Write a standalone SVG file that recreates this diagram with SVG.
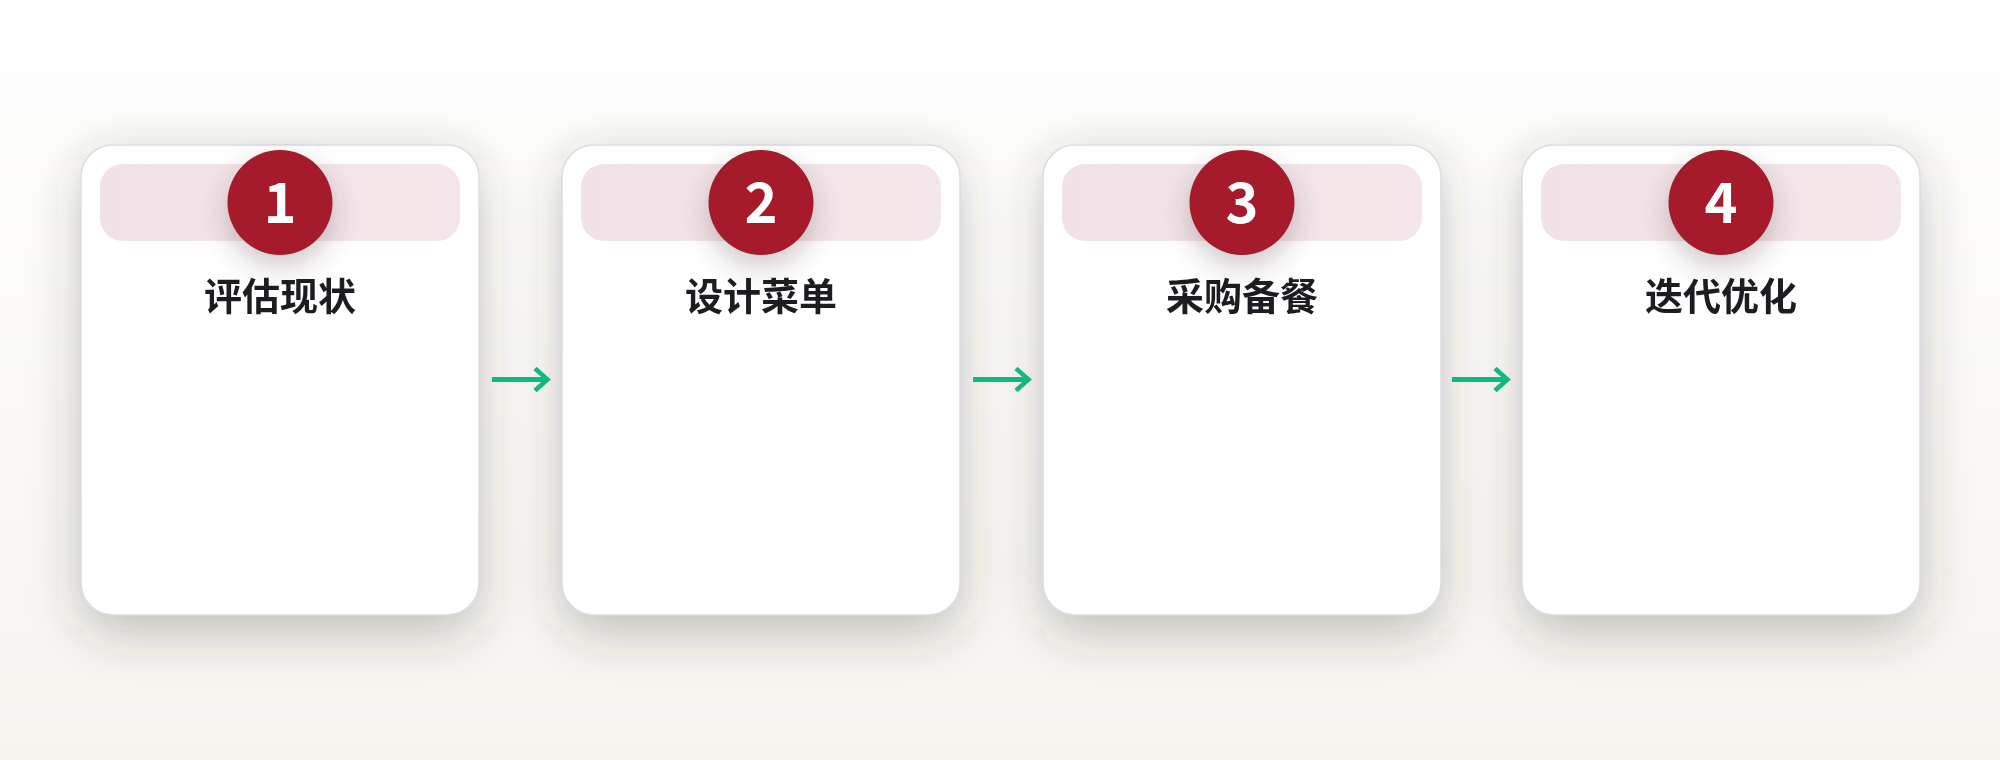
<svg xmlns="http://www.w3.org/2000/svg" width="2000" height="760" viewBox="0 0 2000 760">
  <defs>
    <linearGradient id="bg" x1="0" y1="0" x2="0" y2="1">
      <stop offset="0" stop-color="#ffffff"/>
      <stop offset="1" stop-color="#f6f4ef"/>
    </linearGradient>
    <linearGradient id="band" x1="0" y1="0" x2="1" y2="0">
      <stop offset="0" stop-color="#f0e2e6"/>
      <stop offset="1" stop-color="#f4e6e9"/>
    </linearGradient>
    <filter id="blurBig" filterUnits="userSpaceOnUse" x="-200" y="0" width="2400" height="760">
      <feGaussianBlur stdDeviation="26"/>
    </filter>
    <filter id="blurSmall" filterUnits="userSpaceOnUse" x="0" y="80" width="2000" height="300">
      <feGaussianBlur stdDeviation="15"/>
    </filter>
  </defs>
  <style>
    .card { fill: #ffffff; stroke: #dcdce5; stroke-width: 1.5; }
    .shadow { fill: #3a352e; opacity: 0.3; }
    .cshadow { fill: #3a1a20; opacity: 0.27; }
    .band { fill: url(#band); }
    .badge { fill: #a51b2b; }
    .num { font-family: "Noto Sans CJK SC", "Noto Sans", sans-serif; font-weight: 700; font-size: 56px; fill: #ffffff; text-anchor: middle; }
    .title { font-family: "Noto Sans CJK SC", "Noto Sans", sans-serif; font-weight: 700; font-size: 38px; fill: #1c1c21; text-anchor: middle; }
    .conn { stroke: #10b981; stroke-width: 5; fill: none; stroke-linecap: butt; }
    .head { stroke: #10b981; stroke-width: 4.5; fill: none; stroke-linejoin: miter; }
  </style>
  <rect x="0" y="0" width="2000" height="760" fill="url(#bg)"/>

  <g id="shadows" filter="url(#blurBig)">
    <rect class="shadow" x="83" y="157" width="394" height="474" rx="32"/>
    <rect class="shadow" x="564" y="157" width="394" height="474" rx="32"/>
    <rect class="shadow" x="1045" y="157" width="394" height="474" rx="32"/>
    <rect class="shadow" x="1524" y="157" width="394" height="474" rx="32"/>
  </g>

  <g id="step1">
    <rect class="card" x="81" y="145" width="398" height="470" rx="32"/>
    <rect class="band" x="100" y="164" width="360" height="77" rx="23"/>
    <circle class="cshadow" cx="280" cy="214" r="51" filter="url(#blurSmall)"/>
    <circle class="badge" cx="280" cy="202.5" r="52.5"/>
    <text class="num" x="280" y="223">1</text>
    <text class="title" x="280" y="310">评估现状</text>
  </g>

  <g id="step2">
    <rect class="card" x="562" y="145" width="398" height="470" rx="32"/>
    <rect class="band" x="581" y="164" width="360" height="77" rx="23"/>
    <circle class="cshadow" cx="761" cy="214" r="51" filter="url(#blurSmall)"/>
    <circle class="badge" cx="761" cy="202.5" r="52.5"/>
    <text class="num" x="761" y="223">2</text>
    <text class="title" x="761" y="310">设计菜单</text>
  </g>

  <g id="step3">
    <rect class="card" x="1043" y="145" width="398" height="470" rx="32"/>
    <rect class="band" x="1062" y="164" width="360" height="77" rx="23"/>
    <circle class="cshadow" cx="1242" cy="214" r="51" filter="url(#blurSmall)"/>
    <circle class="badge" cx="1242" cy="202.5" r="52.5"/>
    <text class="num" x="1242" y="223">3</text>
    <text class="title" x="1242" y="310">采购备餐</text>
  </g>

  <g id="step4">
    <rect class="card" x="1522" y="145" width="398" height="470" rx="32"/>
    <rect class="band" x="1541" y="164" width="360" height="77" rx="23"/>
    <circle class="cshadow" cx="1721" cy="214" r="51" filter="url(#blurSmall)"/>
    <circle class="badge" cx="1721" cy="202.5" r="52.5"/>
    <text class="num" x="1721" y="223">4</text>
    <text class="title" x="1721" y="310">迭代优化</text>
  </g>

  <g id="connectors">
    <line class="conn" x1="492" y1="379.5" x2="546" y2="379.5"/>
    <polyline class="head" points="535,368.5 547.5,379.5 535,390.5"/>
    <line class="conn" x1="973" y1="379.5" x2="1027" y2="379.5"/>
    <polyline class="head" points="1016,368.5 1028.5,379.5 1016,390.5"/>
    <line class="conn" x1="1452" y1="379.5" x2="1506" y2="379.5"/>
    <polyline class="head" points="1495,368.5 1507.5,379.5 1495,390.5"/>
  </g>
</svg>
